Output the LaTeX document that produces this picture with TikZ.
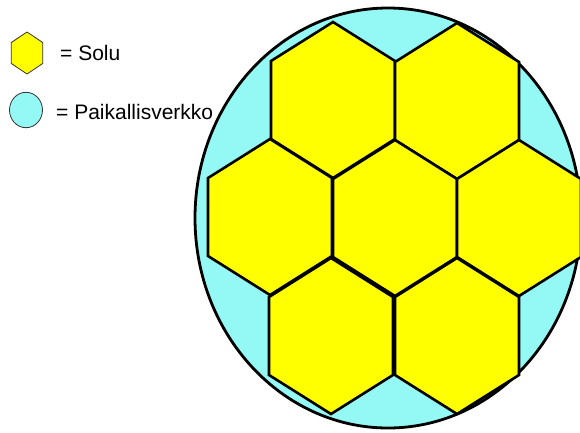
\documentclass[tikz,border=0pt]{standalone}
\usepackage{fontspec}
\setmainfont{Liberation Sans}
\definecolor{cellyellow}{RGB}{255,255,0}
\definecolor{netcyan}{RGB}{148,248,244}
\tikzset{
  cellhex/.style={draw=black,line width=2.6pt,fill=cellyellow,line join=miter},
  legendtext/.style={font=\fontsize{21}{25}\selectfont,anchor=base west,inner sep=0pt}
}

\begin{document}
\begin{tikzpicture}[x=1pt,y=-1pt]
  \useasboundingbox (0,0) rectangle (580,432);
  % local network
  \draw[line width=2.8pt,fill=netcyan] (388,218) ellipse [x radius=193pt,y radius=210pt];
  % cells
  \foreach \cx/\cy in {333/100,457/101,270/217,395/218,519/218,331/336,457/336}{
    \draw[cellhex] (\cx-62,\cy-39) -- (\cx,\cy-78) -- (\cx+62,\cy-39) -- (\cx+62,\cy+39) -- (\cx,\cy+78) -- (\cx-62,\cy+39) -- cycle;
  }
  % legend
  \draw[draw=black!80,line width=0.8pt,fill=cellyellow] (11.3,42.5) -- (27,32) -- (42.7,42.5) -- (42.7,63.5) -- (27,74) -- (11.3,63.5) -- cycle;
  \node[legendtext] (solu) at (60,60) {= Solu};
  \draw[draw=black!80,line width=0.8pt,fill=netcyan] (26,110) ellipse [x radius=16.5pt,y radius=17.7pt];
  \node[legendtext] (verkko) at (56,119) {= Paikallisverkko};
\end{tikzpicture}
\end{document}
